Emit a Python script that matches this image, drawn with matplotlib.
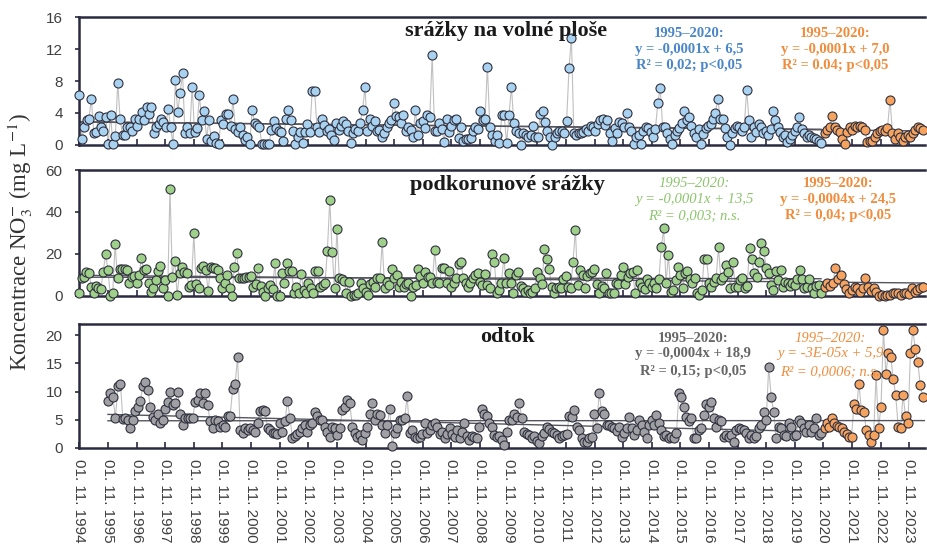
import numpy as np
import matplotlib
matplotlib.use("Agg")
import matplotlib.pyplot as plt
import matplotlib.dates as mdates
from datetime import datetime

# ---------------- data (mg/L NO3-) ----------------
open_1995_2020 = [
    6.3, 0.7, 2.3, 3.1, 3.3, 5.8, 1.5, 1.6, 3.6, 2.2, 1.8, 3.5, 0.1, 3.7, 0.1, 1.1, 7.8, 3.2, 1.2, 1.2,
    2.3, 2.3, 1.7, 3.2, 2.4, 3.3, 4.1, 3.1, 4.7, 3.9, 4.7, 1.5, 2.3, 2.6, 3.2, 2.9, 2.3, 4.5, 2.3, 0.1,
    8.1, 4.1, 6.5, 9.0, 1.5, 2.2, 1.5, 7.3, 1.6, 2.1, 6.2, 3.1, 4.3, 0.8, 3.1, 0.5, 1.1, 0.2, 0.1, 3.1,
    2.6, 3.9, 3.9, 2.4, 5.7, 2.0, 1.6, 2.2, 1.2, 0.6, 1.0, 0.1, 4.4, 2.7, 2.5, 2.3, 0.1, 0.1, 0.1, 0.1,
    1.9, 3.0, 2.1, 1.8, 1.6, 0.5, 3.3, 4.4, 3.1, 1.8, 0.1, 1.0, 1.6, 0.3, 1.6, 2.6, 1.6, 6.7,
    6.8, 2.2, 1.6, 3.3, 2.5, 1.8, 2.0, 1.2, 0.6, 2.7, 1.9, 2.4, 3.0, 2.6, 1.8, 0.2, 1.5, 2.0, 1.7, 2.8,
    4.4, 7.2,
    1.7, 3.2, 2.4, 3.0, 1.8, 1.9, 1.0, 1.5, 2.3, 2.8, 3.1, 5.3, 3.6, 3.5, 2.7, 3.8, 1.7, 2.2, 1.9, 1.0,
    4.4, 1.2, 2.7, 3.0, 2.1, 3.7, 3.5, 11.2,
    1.7, 1.8, 2.7, 2.0, 0.4, 3.2, 1.6, 2.4, 3.1, 3.2, 0.9, 2.3, 0.5, 0.7, 0.8, 0.9, 1.8, 2.3, 2.0, 4.2,
    3.1, 3.3, 9.8, 2.3, 1.2, 0.5, 1.2, 0.3, 3.7, 3.7, 0.2, 3.7, 7.3, 2.7, 1.8, 1.5, 0.0, 1.5, 1.2, 1.0,
    1.2, 2.4, 1.0, 1.0, 3.9, 4.3, 2.9, 1.7, 1.0, 0.0, 1.0, 1.5, 1.7, 1.8, 1.5, 3.0, 9.6, 13.4,
    1.5, 1.2, 1.5, 1.5, 1.6, 2.0, 1.7, 2.4, 2.2, 1.8, 2.6, 3.1, 3.2, 2.5, 3.1,
    1.5, 0.5, 2.1, 1.5, 2.9, 2.7, 2.3, 4.0, 2.3, 1.7, 0.1, 1.0, 1.2, 0.1, 1.8, 2.3, 2.1, 1.6, 1.0, 2.0,
    5.3, 7.1,
    2.3, 2.3, 1.5, 0.8, 0.1, 1.2, 1.7, 2.1, 2.7, 4.3, 3.1, 3.5, 2.4, 1.5, 1.0, 2.0, 0.1, 1.4, 2.1, 2.4,
    2.6, 3.2, 4.0, 5.8,
    3.3, 3.3, 2.1, 1.0, 0.0, 1.5, 2.1, 2.4, 2.2, 1.8, 2.2, 6.9,
    3.1, 1.0, 2.2, 1.6, 2.6, 2.2, 1.5, 1.8, 1.2, 2.0, 4.2, 3.1, 2.3, 1.6, 1.0, 1.2, 0.4, 0.8, 1.3, 1.7,
    2.2, 3.5, 2.0, 1.5, 1.0, 1.2, 1.0, 0.9, 0.7, 0.5, 0.3]
open_2020_2024 = [
    1.5, 1.9, 2.2, 3.6, 2.2, 1.9, 1.6, 0.8, 0.1, 1.6, 2.3, 1.9, 2.4, 2.2, 2.4, 2.3, 1.9, 0.4, 0.5, 0.5,
    1.0, 1.5, 1.8, 1.9, 1.7, 2.1, 5.6, 1.5, 0.8, 1.5, 1.0, 0.5, 1.0, 1.2, 1.0, 1.5, 1.9, 2.3, 2.1, 1.9]

through_1995_2020 = [
    1.3, 8.4, 8.9, 11.6, 11.1, 4.4, 1.6, 4.8, 3.7, 3.2, 11.6, 19.8, 12.4, 0.0, 1.3, 24.8, 8.4, 12.7, 12.7, 12.7,
    12.4, 6.0, 9.2, 9.5, 6.3, 10.0, 17.9, 12.4, 12.7, 6.3, 2.1, 3.7, 7.6, 12.1, 14.3, 3.7, 7.6, 0.0, 50.8, 9.2,
    16.8, 0.5, 10.8, 13.6, 11.6, 10.8, 4.4, 5.2, 29.8, 5.7, 3.7, 13.2, 14.3, 12.4, 2.4, 13.6, 13.2, 13.2, 12.4, 8.4,
    3.7, 6.3, 10.0, 3.7, 0.0, 14.0, 20.3, 8.4, 8.4, 8.4, 8.9, 9.2, 9.7, 4.4, 5.7, 13.2, 4.8, 2.1, 0.0, 3.7,
    5.2, 3.2, 15.6, 0.0, 0.0, 10.8, 6.0, 15.9, 11.9, 11.9, 1.6, 4.4, 1.6, 10.5, 2.9, 1.3, 6.3, 3.7, 1.3, 11.9,
    11.9, 4.4,
    5.2, 6.0, 21.6, 45.7, 21.1, 4.0, 31.9, 8.4, 7.9, 7.3, 1.6, 6.8, 0.0, 0.5, 0.5, 1.3, 6.3, 3.7, 2.1, 0.5,
    5.7, 6.8, 4.4, 8.4, 8.4, 25.6, 3.7, 6.8, 5.2, 12.7, 8.4, 10.0, 4.4, 6.8, 4.4, 5.7, 6.0, 0.0, 4.4, 5.2,
    12.7, 9.5, 6.3, 11.6, 8.9, 9.2, 6.3, 21.9, 6.8, 6.3, 13.2, 13.2, 6.3, 12.1, 4.4, 6.0, 8.4, 15.2, 16.3, 8.4,
    6.3, 4.4, 6.3, 8.4, 10.0, 10.8, 6.8, 5.2, 10.5, 5.2, 3.7, 19.8, 16.3, 1.3, 2.9, 6.3, 18.3, 6.3, 10.8, 6.0,
    1.6, 10.0, 11.6, 4.8, 3.7, 2.1, 2.9, 1.6, 2.1, 3.7, 11.6, 8.4, 5.7, 22.2, 17.5, 12.7, 4.4, 1.6, 3.7, 4.4,
    3.7, 7.9, 9.5, 4.4, 3.7, 16.3, 31.4, 5.2, 12.4, 10.0, 3.7, 9.5, 10.8, 11.6, 12.7, 5.7, 1.6, 4.8, 3.7, 10.8,
    1.6, 1.3, 1.3, 6.0,
    5.7, 10.0, 13.6, 5.7, 9.2, 11.1, 11.6, 1.6, 12.4, 6.3, 4.4, 3.2, 7.9, 6.3, 4.4, 6.3, 3.7, 7.9, 23.2, 32.2,
    6.3, 19.5, 2.1, 2.9, 7.6, 14.0, 10.0, 3.7, 10.8, 12.1, 7.9, 6.3, 8.4, 1.6, 0.5, 2.9, 17.5, 17.5, 6.3, 4.4,
    6.8, 8.4, 23.2, 7.6, 9.2, 14.8, 11.6, 3.7, 16.3, 4.4, 4.4, 7.6, 8.4, 3.7, 4.8, 22.7, 17.5, 10.8, 9.2, 16.3,
    25.4, 21.6, 13.2, 10.8, 5.2, 2.9, 12.1, 7.6, 12.4, 4.4, 6.8, 6.0, 4.8, 6.3, 5.2, 7.9, 12.4, 7.9, 3.7, 4.4,
    7.9, 3.7, 1.6, 4.8, 5.2, 1.6]
through_2020_2024 = [
    4.4, 6.0, 4.8, 6.0, 13.2, 7.9, 10.0, 5.7, 3.2, 1.3, 2.9, 4.4, 3.7, 2.1, 3.7, 8.4, 4.4, 2.5, 3.7, 2.1,
    0.0, 0.5, 0.0, 0.5, 0.5, 1.3, 1.6, 1.3, 0.5, 1.3, 1.6, 1.0, 3.7, 2.1, 2.9, 3.7, 4.4]

runoff_1995_2020 = [
    8.4, 9.8, 9.0, 5.3, 11.0, 11.4, 5.1, 5.4, 5.0, 3.5, 5.0, 6.6, 7.3, 8.4, 11.0, 11.7, 10.3, 7.3, 5.5, 5.0,
    6.0, 4.4, 5.0, 7.0, 8.2, 10.0, 7.6, 7.9, 10.0, 6.1, 4.1, 5.3, 5.3, 5.3, 5.3, 8.2, 8.6, 9.7, 7.9, 9.8,
    7.6, 4.7, 3.5, 5.0, 4.7, 3.8, 4.1, 3.8, 5.7, 5.7, 10.4, 11.3, 16.2, 3.2, 2.6, 3.5, 3.2, 3.5, 3.2, 2.9,
    4.4, 6.6, 6.8, 6.6, 3.5, 3.2, 2.7, 2.6, 2.5, 4.4, 2.9, 4.7, 8.4, 5.3, 1.7, 2.1, 2.5, 2.9, 3.5, 4.1,
    2.9, 4.1, 4.4, 6.4, 5.7,
    5.0, 5.0, 3.8, 2.9, 2.0, 3.8, 3.5, 2.3, 3.5, 6.7, 7.3, 8.6, 7.9, 3.8, 2.6, 2.0, 2.3, 1.5, 2.7, 3.8,
    6.1, 8.0, 5.0, 6.1, 5.8, 4.1, 2.6, 4.1, 7.0, 0.4, 2.7, 3.5, 5.0, 5.0, 5.3, 9.2, 2.6, 3.2, 2.0, 1.7,
    2.0, 2.5, 4.4, 2.6, 3.2, 4.1, 4.5, 3.8, 2.5, 2.9, 1.7, 2.5, 3.5, 2.5, 2.0, 3.2, 1.7, 2.9, 4.4, 2.1,
    1.4, 2.1, 2.0, 1.7, 3.7, 7.0, 6.1, 5.7, 4.5, 3.8, 2.3, 2.0, 2.1, 1.4, 0.5, 2.9, 5.0, 5.0, 6.0, 5.5,
    7.9, 5.3, 2.9, 2.5, 2.3, 1.7, 2.1, 1.3, 0.8, 2.1, 2.7, 3.7, 3.3, 2.9, 2.6, 2.3, 1.7, 2.1, 2.3, 2.5,
    5.7, 5.5, 6.8, 3.8, 3.2, 1.7, 1.1, 1.1, 1.7, 2.0, 6.1, 3.5, 9.7, 6.6, 6.1, 4.1, 4.1, 3.7,
    3.5, 3.1, 3.7, 2.0, 2.7, 3.5, 5.5, 3.5, 2.3, 3.2, 5.0, 4.1, 2.9, 1.7, 4.1, 5.0, 4.1, 5.8, 4.4, 3.2,
    2.1, 2.3, 1.7, 2.0, 1.7, 2.6, 9.7, 9.0, 7.3, 5.5, 4.7, 5.3, 1.7, 1.7, 3.2, 3.5, 5.8, 7.8, 7.3, 8.2,
    5.3, 3.8, 5.0, 4.7, 2.0, 2.3, 2.0, 2.3, 1.1, 3.2, 3.5, 3.3, 3.2, 2.6, 1.7, 2.3, 1.7, 2.1, 3.5, 4.1,
    6.4, 5.0, 14.3, 9.1, 6.4, 1.7, 3.8, 3.5, 2.3, 2.1, 4.4, 3.8, 2.1, 2.3, 5.0, 4.4, 3.5, 2.9, 4.1, 2.9,
    3.5, 5.4, 2.3, 2.6]
runoff_2020_2024 = [
    3.5, 4.5, 3.8, 5.4, 4.4, 3.9, 3.8, 3.5, 2.9, 2.5, 2.0, 2.0, 7.8, 7.0, 11.4, 6.7, 6.4, 3.2, 2.3, 1.1,
    2.3, 12.9, 3.5, 7.3, 20.9, 13.2, 16.8, 16.2, 12.2, 9.4, 3.8, 3.5, 9.4, 5.7, 4.4, 16.8, 20.9, 17.5, 15.3, 11.2,
    9.0]

tick_years = list(range(1994, 2024))
tick_labels = [f"01. 11. {y}" for y in tick_years]

panels = [
    dict(title="srážky na volné ploše", a=open_1995_2020, b=open_2020_2024,
         start_a=datetime(1994, 11, 1), ymax=16, yticks=[0, 4, 8, 12, 16],
         col_a="#a8d2f0", txt_a="#4a86c8", bold_a=True, ital_a=False,
         eq_a=["1995–2020:", "y = -0,0001x + 6,5", "R² = 0,02; p<0,05"],
         eq_b=["1995–2020:", "y = -0,0001x + 7,0", "R² = 0.04; p<0,05"],
         bold_b=True, ital_b=False),
    dict(title="podkorunové srážky", a=through_1995_2020, b=through_2020_2024,
         start_a=datetime(1994, 11, 1), ymax=60, yticks=[0, 20, 40, 60],
         col_a="#9fd08a", txt_a="#8cc46c", bold_a=False, ital_a=True,
         eq_a=["1995–2020:", "y = -0,0001x + 13,5", "R² = 0,003; n.s."],
         eq_b=["1995–2020:", "y = -0,0004x + 24,5", "R² = 0,04; p<0,05"],
         bold_b=True, ital_b=False),
    dict(title="odtok", a=runoff_1995_2020, b=runoff_2020_2024,
         start_a=datetime(1995, 11, 1), ymax=22, yticks=[0, 5, 10, 15, 20],
         col_a="#a0a0a4", txt_a="#666666", bold_a=True, ital_a=False,
         eq_a=["1995–2020:", "y = -0,0004x + 18,9", "R² = 0,15; p<0,05"],
         eq_b=["1995–2020:", "y = -3E-05x + 5,9", "R² = 0,0006; n.s."],
         bold_b=False, ital_b=True),
]

orange = "#f5a35e"
orange_txt = "#f08c3c"
edge = "#30303e"
spine_col = "#2a2a40"

plt.rcParams['mathtext.fontset'] = 'stix'
fig = plt.figure(figsize=(9.28, 5.44), dpi=100)

L, W = 0.0855, 0.9113
rects = [(L, 0.7335, W, 0.2352),
         (L, 0.4559, W, 0.2316),
         (L, 0.1765, W, 0.2279)]

# text layout per panel (axes fractions)
title_pos = [(0.505, 0.893), (0.506, 0.882), (0.506, 0.893)]
eq_x = [(0.721, 0.894), (0.727, 0.897), (0.726, 0.888)]
eq_y = [(0.875, 0.75, 0.625), (0.889, 0.762, 0.635), (0.887, 0.766, 0.613)]

xmin = mdates.date2num(datetime(1994, 11, 1))
xmax = mdates.date2num(datetime(2024, 5, 20))
end_a = mdates.date2num(datetime(2020, 10, 1))
start_b = mdates.date2num(datetime(2020, 11, 15))
end_b = mdates.date2num(datetime(2024, 4, 20))

for i, (p, r) in enumerate(zip(panels, rects)):
    ax = fig.add_axes(r)
    ya = np.array(p["a"]); yb = np.array(p["b"])
    xa = np.linspace(mdates.date2num(p["start_a"]), end_a, len(ya))
    xb = np.linspace(start_b, end_b, len(yb))
    ax.plot(xa, ya, color="#c0c0c0", lw=0.8, zorder=1)
    ax.plot(xb, yb, color="#c0c0c0", lw=0.8, zorder=1)
    ca = np.polyfit(xa, ya, 1)
    xall = np.concatenate([xa, xb]); yall = np.concatenate([ya, yb])
    cb = np.polyfit(xall, yall, 1)
    ax.plot([xa[0], xa[-1]], np.polyval(ca, [xa[0], xa[-1]]), color="#55555f", lw=1.0, zorder=2)
    ax.plot([xall[0], xmax], np.polyval(cb, [xall[0], xmax]), color="#55555f", lw=1.0, zorder=2)
    ax.plot(xa, ya, 'o', ms=6.5, mfc=p["col_a"], mec=edge, mew=0.8, zorder=3, clip_on=False)
    ax.plot(xb, yb, 'o', ms=6.5, mfc=orange, mec=edge, mew=0.8, zorder=3, clip_on=False)

    ax.set_xlim(xmin, xmax)
    ax.set_ylim(0, p["ymax"])
    ax.set_yticks(p["yticks"])
    ax.set_yticklabels([str(t) for t in p["yticks"]], fontsize=11, color="#404040",
                       family="Liberation Sans")
    ticks = [mdates.date2num(datetime(y, 11, 1)) for y in tick_years]
    ax.set_xticks(ticks)
    if i == 2:
        ax.set_xticklabels(tick_labels, rotation=-90, fontsize=11, color="#404040",
                           family="Liberation Sans", va="top", ha="center")
    else:
        ax.set_xticklabels([])
    ax.tick_params(axis='x', direction='in', length=4, width=1.2, color=spine_col, pad=8)
    ax.tick_params(axis='y', direction='out', length=3, width=1.2, color=spine_col, pad=9)
    for s in ["top", "left", "bottom"]:
        ax.spines[s].set_color(spine_col)
        ax.spines[s].set_linewidth(1.8)
    ax.spines["right"].set_visible(False)

    tx, ty = title_pos[i]
    ax.text(tx, ty, p["title"], transform=ax.transAxes,
            ha="center", va="center", fontsize=16, fontweight="bold",
            family="Liberation Serif", color="#1a1a1a")
    xa_txt, xb_txt = eq_x[i]
    for line, yy in zip(p["eq_a"], eq_y[i]):
        ax.text(xa_txt, yy, line, transform=ax.transAxes, ha="center", va="center",
                fontsize=10.5, color=p["txt_a"], family="Liberation Serif",
                fontweight="bold" if p["bold_a"] else "normal",
                style="italic" if p["ital_a"] else "normal")
    for line, yy in zip(p["eq_b"], eq_y[i]):
        ax.text(xb_txt, yy, line, transform=ax.transAxes, ha="center", va="center",
                fontsize=10.5, color=orange_txt, family="Liberation Serif",
                fontweight="bold" if p["bold_b"] else "normal",
                style="italic" if p["ital_b"] else "normal")

fig.text(0.022, 0.555, r"Koncentrace NO$_3^{-}$ (mg L$^{-1}$)", rotation=90,
         ha="center", va="center", fontsize=16.5, family="Liberation Serif", color="#333333")

fig.savefig("out.png", dpi=100)
